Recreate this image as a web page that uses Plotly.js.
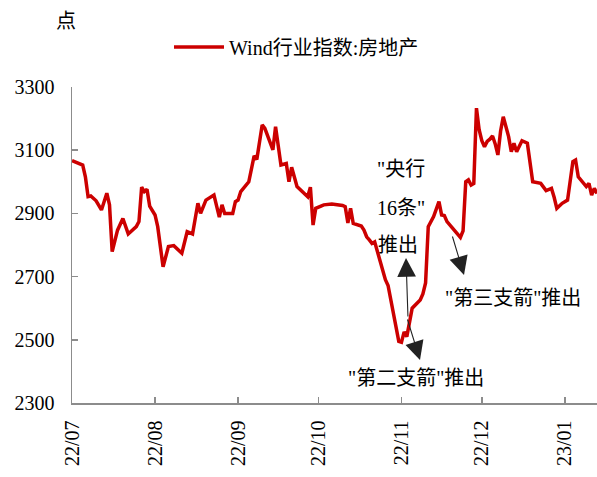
<!DOCTYPE html>
<html>
<head>
<meta charset="utf-8">
<script src="https://cdn.plot.ly/plotly-3.0.1.min.js"></script>
<style>html,body{margin:0;padding:0;background:#fff;}#chart{width:597px;height:477px;}</style>
</head>
<body>
<div id="chart"></div>
<script>
var seriesName = 'Wind行业指数:房地产';
var dates = [
'2022-07-01','2022-07-05','2022-07-06','2022-07-07','2022-07-08','2022-07-10','2022-07-12','2022-07-14','2022-07-15','2022-07-16',
'2022-07-18','2022-07-20','2022-07-22','2022-07-25','2022-07-26','2022-07-27','2022-07-28','2022-07-29','2022-07-30','2022-08-01',
'2022-08-02','2022-08-04','2022-08-06','2022-08-08','2022-08-11','2022-08-13','2022-08-15','2022-08-17','2022-08-18','2022-08-20',
'2022-08-23','2022-08-25','2022-08-26','2022-08-27','2022-08-30','2022-08-31','2022-09-01','2022-09-02','2022-09-05','2022-09-07',
'2022-09-08','2022-09-10','2022-09-11','2022-09-14','2022-09-15','2022-09-17','2022-09-19','2022-09-20','2022-09-21','2022-09-23',
'2022-09-27','2022-09-28','2022-09-29','2022-09-30','2022-10-03','2022-10-06','2022-10-10','2022-10-11','2022-10-12','2022-10-13',
'2022-10-14','2022-10-17','2022-10-18','2022-10-19','2022-10-20','2022-10-21','2022-10-22','2022-10-24','2022-10-26','2022-10-27',
'2022-10-28','2022-10-29','2022-10-30','2022-10-31','2022-11-01','2022-11-02','2022-11-03','2022-11-04','2022-11-05','2022-11-08',
'2022-11-09','2022-11-10','2022-11-11','2022-11-13','2022-11-15','2022-11-16','2022-11-17','2022-11-18','2022-11-20','2022-11-22',
'2022-11-23','2022-11-24','2022-11-25','2022-11-26','2022-11-27','2022-11-28','2022-11-29','2022-11-30','2022-12-01','2022-12-02',
'2022-12-03','2022-12-04','2022-12-05','2022-12-06','2022-12-07','2022-12-08','2022-12-09','2022-12-11','2022-12-12','2022-12-13',
'2022-12-14','2022-12-16','2022-12-18','2022-12-20','2022-12-23','2022-12-25','2022-12-27','2022-12-28','2022-12-29','2022-12-31',
'2023-01-02','2023-01-04','2023-01-05','2023-01-06','2023-01-09','2023-01-10','2023-01-11','2023-01-12','2023-01-13'
];
var values = [
3067,3053,3016,2953,2955,2940,2911,2964,2927,2779,
2847,2884,2835,2858,2874,2983,2969,2976,2923,2895,
2858,2731,2795,2798,2774,2842,2835,2932,2900,2942,
2958,2888,2927,2900,2900,2937,2942,2969,3000,3082,
3071,3180,3169,3101,3174,3053,3058,3000,3046,2985,
2953,2983,2863,2916,2927,2930,2925,2921,2870,2916,
2868,2860,2847,2826,2816,2805,2810,2745,2690,2672,
2630,2590,2535,2495,2492,2525,2510,2560,2600,2626,
2645,2680,2858,2890,2937,2895,2893,2874,2855,2835,
2824,2845,3000,3006,2990,2995,3233,3165,3130,3111,
3128,3135,3145,3120,3085,3160,3206,3143,3095,3122,
3095,3130,3122,3000,2995,2972,2979,2951,2916,2932,
2942,3064,3069,3016,2985,2995,2958,2979,2963
];
var yTicks = [2300, 2500, 2700, 2900, 3100, 3300];
var yUnit = '点';
var noteCentralBank = ['"央行', '16条"', '推出'];
var noteSecondArrow = '"第二支箭"推出';
var noteThirdArrow = '"第三支箭"推出';

var FONT = 'Liberation Serif, "Times New Roman", "Noto Sans CJK SC", serif';
// helpers: convert pixel positions on the 597x477 canvas to paper coordinates
var L = 72, R = 597, T = 87, B = 403;
function px(x){ return (x - L) / (R - L); }
function py(y){ return (B - y) / (B - T); }

var trace = {
  x: dates, y: values, type: 'scatter', mode: 'lines', name: seriesName,
  line: {color: '#CC0000', width: 3.5}
};

function txt(t, x, y){
  return {text: t, xref: 'paper', yref: 'paper', x: px(x), y: py(y), xanchor: 'center', yanchor: 'middle',
    showarrow: false, font: {family: FONT, size: 20, color: '#000'}};
}
function arrow(hx, hy, tx, ty){
  return {text: '', xref: 'paper', yref: 'paper', x: px(hx), y: py(hy), ax: tx - hx, ay: ty - hy,
    showarrow: true, arrowhead: 2, arrowsize: 3.4, arrowwidth: 1.1, arrowcolor: '#222', standoff: 0, startstandoff: 0};
}

var annotations = [
  txt(yUnit, 66, 21),
  txt(noteCentralBank[0], 401, 169),
  txt(noteCentralBank[1], 401, 208),
  txt(noteCentralBank[2], 398, 245),
  txt(noteSecondArrow, 416, 378),
  txt(noteThirdArrow, 513, 298),
  arrow(406, 258, 408, 318),
  arrow(420, 360, 407, 318),
  arrow(464, 275, 452, 235)
];

var layout = {
  width: 597, height: 477,
  margin: {l: L, r: 597 - R, t: T, b: 477 - B},
  paper_bgcolor: '#fff', plot_bgcolor: '#fff',
  font: {family: FONT, size: 20, color: '#000'},
  showlegend: true,
  legend: {orientation: 'h', x: px(169), y: py(47), xanchor: 'left', yanchor: 'middle',
    font: {family: FONT, size: 20, color: '#000'}, bgcolor: 'rgba(0,0,0,0)', itemwidth: 50},
  xaxis: {
    type: 'date', range: ['2022-07-01', '2023-01-13'],
    tick0: '2022-07-01', dtick: 'M1', tickformat: '%y/%m', tickangle: -90,
    ticks: 'inside', ticklen: 6, tickcolor: '#8c8c8c', tickwidth: 1.5,
    showline: true, linecolor: '#8c8c8c', linewidth: 1.5, showgrid: false, zeroline: false,
    ticklabelstandoff: 8, tickfont: {family: FONT, size: 20, color: '#000'}
  },
  yaxis: {
    range: [2300, 3300], tickvals: yTicks, ticktext: yTicks.map(String),
    ticks: 'inside', ticklen: 6, tickcolor: '#8c8c8c', tickwidth: 1.5,
    showline: true, linecolor: '#8c8c8c', linewidth: 1.5, showgrid: false, zeroline: false,
    ticklabelstandoff: 12, tickfont: {family: FONT, size: 20, color: '#000'}
  },
  annotations: annotations
};

Plotly.newPlot('chart', [trace], layout, {displayModeBar: false, staticPlot: true});
</script>
</body>
</html>
